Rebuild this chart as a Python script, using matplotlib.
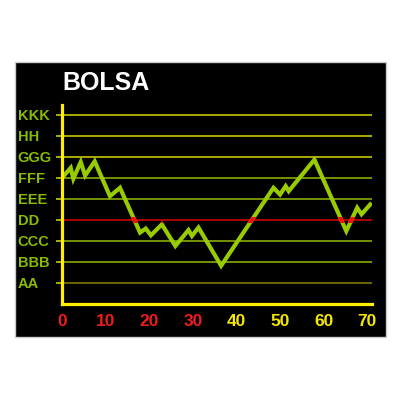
import matplotlib
matplotlib.use("Agg")
import matplotlib.pyplot as plt
from matplotlib.patches import Rectangle

# data
x_vals = [0, 2.0, 2.6, 4.3, 5.3, 7.5, 11.0, 13.3, 17.9, 19.2, 20.4, 22.9, 26.0,
          29.0, 29.8, 31.3, 36.5, 48.5, 50.0, 51.3, 52.0, 57.9, 65.2, 67.7, 68.7, 70.7]
y_vals = [6.0, 6.48, 5.96, 6.76, 6.11, 6.79, 5.13, 5.53, 3.40, 3.59, 3.27, 3.79, 2.76,
          3.52, 3.24, 3.64, 1.82, 5.53, 5.21, 5.61, 5.37, 6.87, 3.47, 4.58, 4.27, 4.74]
level_labels = ["AA", "BBB", "CCC", "DD", "EEE", "FFF", "GGG", "HH", "KKK"]
level_values = [1, 2, 3, 4, 5, 6, 7, 8, 9]
level_colors = ["#807800", "#88aa00", "#88aa00", "#cc0000", "#88aa00", "#88aa00",
                "#c8c800", "#c8c800", "#c8c800"]
x_ticks = [0, 10, 20, 30, 40, 50, 60, 70]
x_tick_colors = ["#ee1c1c"] * 4 + ["#f5e800"] * 4
threshold = 4
title = "BOLSA"

plt.rcParams['font.family'] = ['Liberation Sans', 'DejaVu Sans']
fig = plt.figure(figsize=(4, 4), dpi=100)
fig.patch.set_facecolor("white")
bg = Rectangle((15/400, 63/400), 371/400, 275/400, transform=fig.transFigure,
               facecolor="black", edgecolor="#cccccc", linewidth=1, zorder=-10)
fig.patches.append(bg)

ax = fig.add_axes([62/400, 96/400, 310/400, 199/400])
ax.set_zorder(2)
ax.set_facecolor("none")
ax.set_xlim(0, 71.1)
ax.set_ylim(0, 9.47)

for v, c in zip(level_values, level_colors):
    ax.axhline(v, color=c, linewidth=1.2, zorder=1)

line_color = "#99cc00"
ax.plot(x_vals, y_vals, color=line_color, linewidth=3.0, solid_joinstyle='miter', zorder=3)
red, = ax.plot(x_vals, y_vals, color="#ee1111", linewidth=3.0, solid_joinstyle='miter', zorder=4)
clip = Rectangle((0, threshold - 0.13), 80, 0.26, transform=ax.transData)
red.set_clip_path(clip)

for s in ["top", "right"]:
    ax.spines[s].set_visible(False)
for s in ["left", "bottom"]:
    ax.spines[s].set_color("#ffee00")
    ax.spines[s].set_linewidth(2.3)
    ax.spines[s].set_zorder(5)

ax.set_yticks(level_values)
ax.set_yticklabels(level_labels)
ax.tick_params(axis='y', length=4, width=1.2, colors="#c8c800", pad=28)
for lbl in ax.get_yticklabels():
    lbl.set_horizontalalignment('left')
    lbl.set_color("#88bb00")
    lbl.set_fontweight('bold')
    lbl.set_fontsize(10.5)
for t, c in zip(ax.yaxis.get_major_ticks(), level_colors):
    t.tick1line.set_color(c)

ax.set_xticks(x_ticks)
ax.set_xticklabels([str(v) for v in x_ticks])
ax.tick_params(axis='x', length=0, pad=7)
for lbl, c in zip(ax.get_xticklabels(), x_tick_colors):
    lbl.set_color(c)
    lbl.set_fontweight('bold')
    lbl.set_fontsize(12.5)

fig.text(62/400, 1 - 83/400, title, color="white", fontsize=18, fontweight='bold',
         ha='left', va='center', zorder=3)

fig.savefig("out.png", dpi=100, facecolor="white")
